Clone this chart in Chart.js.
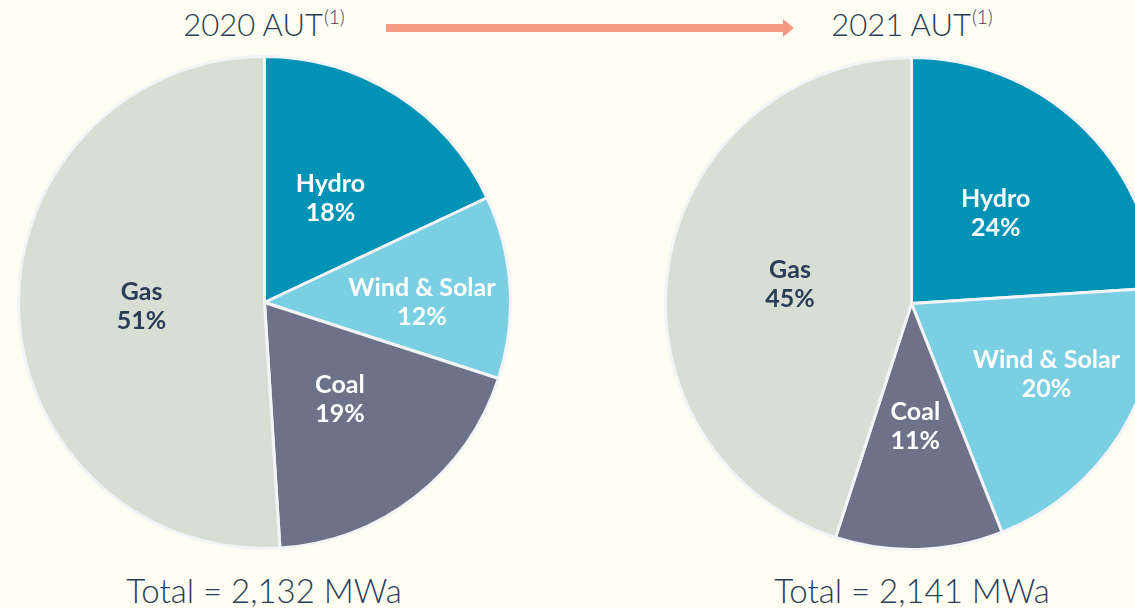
<!DOCTYPE html>
<html>
<head>
<meta charset="utf-8">
<script src="https://cdn.jsdelivr.net/npm/chart.js@4"></script>
<style>
  html, body { margin: 0; padding: 0; }
  body {
    width: 1135px; height: 608px; overflow: hidden; position: relative;
    background: #fffef2; font-family: Lato, sans-serif; color: #2a3d58;
  }
  .pie { position: absolute; width: 495px; height: 495px; }
  .title { position: absolute; top: 5px; font-size: 31px; font-weight: 300; white-space: nowrap; transform: translateX(-50%); }
  .title sup { font-size: 19px; vertical-align: 12px; line-height: 0; margin-left: 1px; }
  .total { position: absolute; top: 570px; font-size: 33px; font-weight: 300; white-space: nowrap; transform: translateX(-50%); }
  .shaft { position: absolute; left: 386px; top: 24px; width: 398px; height: 8px; background: #f69a84; }
  .head { position: absolute; left: 783px; top: 19px; width: 0; height: 0;
          border-top: 9px solid transparent; border-bottom: 9px solid transparent; border-left: 11px solid #f69a84; }
</style>
</head>
<body>
<div class="title" style="left:264px">2020 AUT<sup>(1)</sup></div>
<div class="title" style="left:912px">2021 AUT<sup>(1)</sup></div>
<div class="shaft"></div><div class="head"></div>

<div class="pie" style="left:16.5px; top:54.5px"><canvas id="pie2020" width="495" height="495"></canvas></div>
<div class="pie" style="left:663.5px; top:55.5px"><canvas id="pie2021" width="495" height="495"></canvas></div>

<div class="total" style="left:264px">Total = 2,132 MWa</div>
<div class="total" style="left:912px">Total = 2,141 MWa</div>

<script>
// categories, clockwise from 12 o'clock
const sources = ['Hydro', 'Wind & Solar', 'Coal', 'Gas'];
const share2020 = [18, 12, 19, 51];
const share2021 = [24, 20, 11, 45];

const sliceColors = ['#0093b5', '#7bcfe3', '#6d7288', '#d9ded5'];
const labelColors = ['#ffffff', '#ffffff', '#ffffff', '#2a3d58'];

// draws "name / value%" inside each slice
const sliceLabels = {
  id: 'sliceLabels',
  afterDatasetsDraw(chart, args, opts) {
    const ctx = chart.ctx;
    const meta = chart.getDatasetMeta(0);
    const values = chart.data.datasets[0].data;
    ctx.save();
    ctx.font = 'bold 25px Lato, sans-serif';
    ctx.textAlign = 'center';
    ctx.textBaseline = 'middle';
    meta.data.forEach((arc, i) => {
      const p = arc.getProps(['x', 'y', 'startAngle', 'endAngle', 'outerRadius'], true);
      const mid = (p.startAngle + p.endAngle) / 2 + (opts.shift[i] || 0);
      const r = p.outerRadius * opts.radius[i];
      const x = p.x + Math.cos(mid) * r;
      const y = p.y + Math.sin(mid) * r;
      ctx.fillStyle = labelColors[i];
      ctx.fillText(chart.data.labels[i], x, y - 14.5);
      ctx.fillText(values[i] + '%', x, y + 14.5);
    });
    ctx.restore();
  }
};

function makePie(id, values, labelOpts) {
  return new Chart(document.getElementById(id), {
    type: 'pie',
    data: {
      labels: sources,
      datasets: [{
        data: values,
        backgroundColor: sliceColors,
        borderColor: '#f3f4f7',
        borderWidth: 3
      }]
    },
    options: {
      responsive: false,
      animation: false,
      layout: { padding: 0 },
      plugins: {
        legend: { display: false },
        tooltip: { enabled: false },
        sliceLabels: labelOpts
      }
    },
    plugins: [sliceLabels]
  });
}

makePie('pie2020', share2020, { radius: [0.5, 0.64, 0.5, 0.5], shift: [0, 0.06, 0, 0] });
makePie('pie2021', share2021, { radius: [0.5, 0.62, 0.5, 0.5], shift: [0, -0.08, 0, 0] });
</script>
</body>
</html>
